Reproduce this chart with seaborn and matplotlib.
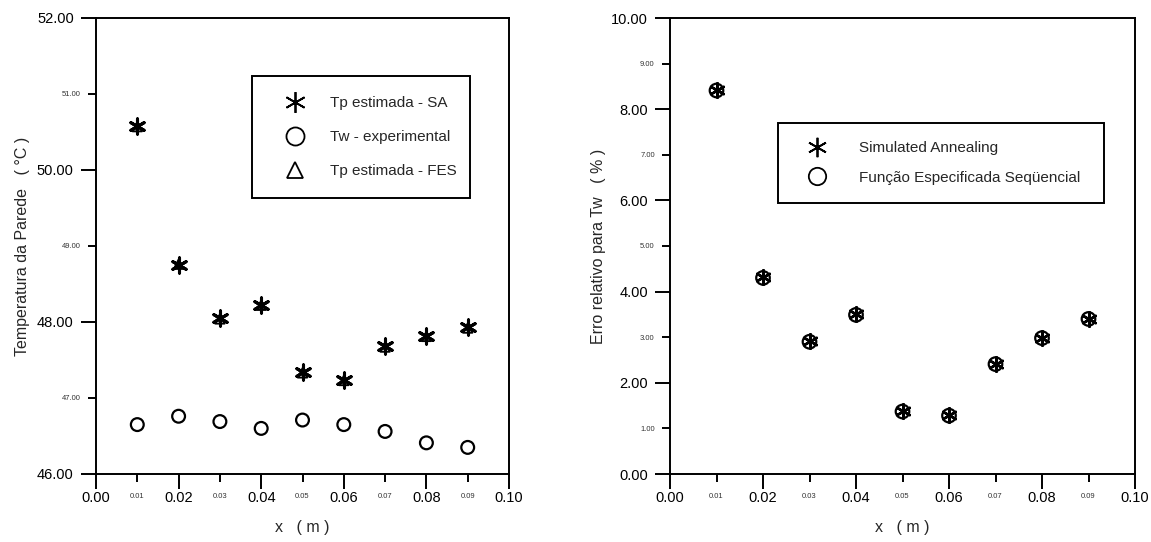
import numpy as np
import pandas as pd
import matplotlib
matplotlib.use("Agg")
import matplotlib.pyplot as plt
from matplotlib.lines import Line2D
import seaborn as sns

# ---- data ----
x_pos = [0.01, 0.02, 0.03, 0.04, 0.05, 0.06, 0.07, 0.08, 0.09]
tp_sa = [50.58, 48.75, 48.05, 48.23, 47.34, 47.24, 47.68, 47.82, 47.93]
tp_fes = [50.57, 48.76, 48.04, 48.22, 47.33, 47.23, 47.67, 47.81, 47.92]
tw_exp = [46.65, 46.76, 46.69, 46.60, 46.71, 46.65, 46.56, 46.41, 46.35]
err_sa = [8.42, 4.31, 2.91, 3.50, 1.38, 1.29, 2.42, 2.99, 3.41]
err_fes = [8.41, 4.30, 2.90, 3.49, 1.37, 1.28, 2.41, 2.98, 3.40]

x_major = [0.00, 0.02, 0.04, 0.06, 0.08, 0.10]
x_minor = [0.01, 0.03, 0.05, 0.07, 0.09]
y1_major = [46.0, 48.0, 50.0, 52.0]
y1_minor = [47.0, 49.0, 51.0]
y2_major = [0.0, 2.0, 4.0, 6.0, 8.0, 10.0]
y2_minor = [1.0, 3.0, 5.0, 7.0, 9.0]

left_labels = ["Tp estimada - SA", "Tw - experimental", "Tp estimada - FES"]
right_labels = ["Simulated Annealing", "Função Especificada Seqüencial"]

sns.set_style("ticks")
plt.rcParams['font.family'] = ['Liberation Sans', 'DejaVu Sans']
plt.rcParams['axes.unicode_minus'] = False

fig = plt.figure(figsize=(11.51, 5.42), dpi=100)
W, H = 1151, 542
def axrect(l, r, t, b):
    return [l / W, (H - b) / H, (r - l) / W, (b - t) / H]

ax1 = fig.add_axes(axrect(96, 509, 18, 474))
ax2 = fig.add_axes(axrect(670, 1135, 18, 474))

AST = (6, 2, 0)

df1 = pd.DataFrame({"x": x_pos, "sa": tp_sa, "fes": tp_fes, "tw": tw_exp})
df2 = pd.DataFrame({"x": x_pos, "sa": err_sa, "fes": err_fes})

# left panel
sns.scatterplot(data=df1, x="x", y="fes", marker="^", s=45, facecolors="none",
                edgecolor="black", linewidth=1.4, ax=ax1, legend=False)
sns.scatterplot(data=df1, x="x", y="sa", marker=AST, s=120, color="black",
                edgecolor="black", linewidth=2.2, ax=ax1, legend=False)
sns.scatterplot(data=df1, x="x", y="tw", marker="o", s=85, facecolors="none",
                edgecolor="black", linewidth=1.6, ax=ax1, legend=False)

# right panel
sns.scatterplot(data=df2, x="x", y="fes", marker="o", s=95, facecolors="none",
                edgecolor="black", linewidth=1.6, ax=ax2, legend=False)
sns.scatterplot(data=df2, x="x", y="sa", marker=AST, s=110, color="black",
                edgecolor="black", linewidth=1.8, ax=ax2, legend=False)

def style_axis(ax, ymaj, ymin, ylim, ylabel, ylab_x):
    ax.set_xlim(0.0, 0.10)
    ax.set_ylim(*ylim)
    ax.set_xticks(x_major)
    ax.set_xticklabels([f"{v:.2f}" for v in x_major])
    ax.set_xticks(x_minor, minor=True)
    ax.set_xticklabels([f"{v:.2f}" for v in x_minor], minor=True)
    ax.set_yticks(ymaj)
    ax.set_yticklabels([f"{v:.2f}" for v in ymaj])
    ax.set_yticks(ymin, minor=True)
    ax.set_yticklabels([f"{v:.2f}" for v in ymin], minor=True)
    for s in ax.spines.values():
        s.set_visible(True)
        s.set_color("black")
        s.set_linewidth(1.4)
    ax.tick_params(axis="both", which="major", direction="out", length=11,
                   width=1.4, color="black", labelsize=10.5, labelcolor="black")
    ax.tick_params(axis="both", which="minor", direction="out", length=6,
                   width=1.4, color="black", labelsize=5.5, labelcolor="#333333")
    ax.tick_params(axis="x", which="major", pad=1.5)
    ax.tick_params(axis="x", which="minor", pad=7.5)
    ax.tick_params(axis="y", which="major", pad=5)
    ax.tick_params(axis="y", which="minor", pad=5)
    ax.tick_params(top=False, right=False, which="both")
    ax.set_xlabel("x   ( m )", fontsize=11.5)
    ax.set_ylabel(ylabel, fontsize=11.5)
    ax.xaxis.set_label_coords(0.5, -0.10)
    ax.yaxis.set_label_coords(ylab_x, 0.5)
    ax.grid(False)

style_axis(ax1, y1_major, y1_minor, (46, 52), "Temperatura da Parede   ( °C )", -0.16)
style_axis(ax2, y2_major, y2_minor, (0, 10), "Erro relativo para Tw   ( % )", -0.138)

# legends
h1 = [Line2D([], [], ls="none", marker=AST, ms=15, mew=1.3, color="black"),
      Line2D([], [], ls="none", marker="o", ms=13, mew=1.3, mfc="none", color="black"),
      Line2D([], [], ls="none", marker="^", ms=11, mew=1.3, mfc="none", color="black")]
lx0, lx1, lt = 252, 470, 76
x0 = (lx0 - 96) / 413; w = (lx1 - lx0) / 413
leg1 = ax1.legend(h1, left_labels, loc="upper left",
                  bbox_to_anchor=(x0, (474 - lt) / 456, w, 0.0), mode="expand",
                  fontsize=11, frameon=True, fancybox=False, borderpad=1.3,
                  labelspacing=1.31, handlelength=3.0, handletextpad=0.8,
                  borderaxespad=0.0, framealpha=1.0)
leg1.get_frame().set_edgecolor("black")
leg1.get_frame().set_linewidth(1.4)

h2 = [Line2D([], [], ls="none", marker=AST, ms=14, mew=1.3, color="black"),
      Line2D([], [], ls="none", marker="o", ms=12.5, mew=1.3, mfc="none", color="black")]
rx0, rx1, rt = 778, 1104, 123
x0 = (rx0 - 670) / 465; w = (rx1 - rx0) / 465
leg2 = ax2.legend(h2, right_labels, loc="upper left",
                  bbox_to_anchor=(x0, (474 - rt) / 456, w, 0.0), mode="expand",
                  fontsize=11, frameon=True, fancybox=False, borderpad=1.2,
                  labelspacing=1.0, handlelength=2.7, handletextpad=1.4,
                  borderaxespad=0.0, framealpha=1.0)
leg2.get_frame().set_edgecolor("black")
leg2.get_frame().set_linewidth(1.4)

fig.savefig("out.png", dpi=100)
